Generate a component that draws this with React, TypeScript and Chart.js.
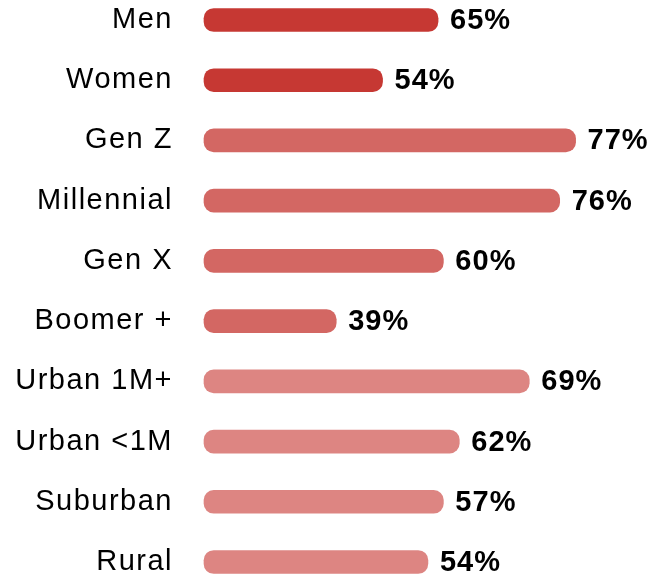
import React, { useEffect, useRef } from "react";
import { Chart, registerables } from "chart.js";

Chart.register(...registerables);

const categories = [
  "Men",
  "Women",
  "Gen Z",
  "Millennial",
  "Gen X",
  "Boomer +",
  "Urban 1M+",
  "Urban <1M",
  "Suburban",
  "Rural",
];

// bar lengths as drawn in the reference (same units as its longest bar, Gen Z = 77)
const barLengths = [48.5, 37.0, 77.0, 73.7, 49.6, 27.4, 67.4, 52.9, 49.6, 46.4];

// value labels printed next to the bars
const percentLabels = [65, 54, 77, 76, 60, 39, 69, 62, 57, 54];

const groups = [
  "gender",
  "gender",
  "generation",
  "generation",
  "generation",
  "generation",
  "place",
  "place",
  "place",
  "place",
];

const groupColors: Record<string, string> = {
  gender: "#c63833",
  generation: "#d36763",
  place: "#dd8582",
};

const FONT = "'Liberation Sans', Arial, Helvetica, sans-serif";

export default function App() {
  const ref = useRef<HTMLCanvasElement | null>(null);

  useEffect(() => {
    if (!ref.current) return;

    const spacingPlugin = {
      id: "spacing",
      beforeDraw(chart: any) {
        chart.ctx.letterSpacing = "1.5px";
      },
    };

    const valueLabels = {
      id: "valueLabels",
      afterDatasetsDraw(chart: any) {
        const ctx = chart.ctx;
        const meta = chart.getDatasetMeta(0);
        ctx.save();
        ctx.letterSpacing = "1px";
        ctx.font = `bold 29px ${FONT}`;
        ctx.fillStyle = "#000";
        ctx.textAlign = "left";
        ctx.textBaseline = "middle";
        meta.data.forEach((el: any, i: number) => {
          ctx.fillText(`${percentLabels[i]}%`, el.x + 12, el.y + 1);
        });
        ctx.restore();
      },
    };

    const chart = new Chart(ref.current, {
      type: "bar",
      data: {
        labels: categories,
        datasets: [
          {
            data: barLengths,
            backgroundColor: groups.map((g) => groupColors[g]),
            barThickness: 23,
            borderRadius: 10,
            borderSkipped: false,
            clip: false as any,
          },
        ],
      },
      options: {
        indexAxis: "y",
        animation: false,
        responsive: false,
        layout: { padding: { top: 20, bottom: 16, left: 0, right: 10 } },
        plugins: {
          legend: { display: false },
          tooltip: { enabled: false },
        },
        scales: {
          x: {
            type: "linear",
            min: 0,
            max: 92,
            display: false,
          },
          y: {
            type: "category",
            offset: false,
            grid: { display: false, drawTicks: false },
            border: { display: false },
            ticks: {
              color: "#000",
              padding: 31,
              font: { family: FONT, size: 29 },
            },
            afterFit(scale: any) {
              scale.width = 204;
              scale.paddingTop = 0;
              scale.paddingBottom = 0;
            },
          },
        },
      },
      plugins: [spacingPlugin, valueLabels],
    });

    return () => chart.destroy();
  }, []);

  return (
    <canvas
      ref={ref}
      width={658}
      height={578}
      style={{ position: "fixed", left: 0, top: 0, display: "block", background: "#fff" }}
    />
  );
}
